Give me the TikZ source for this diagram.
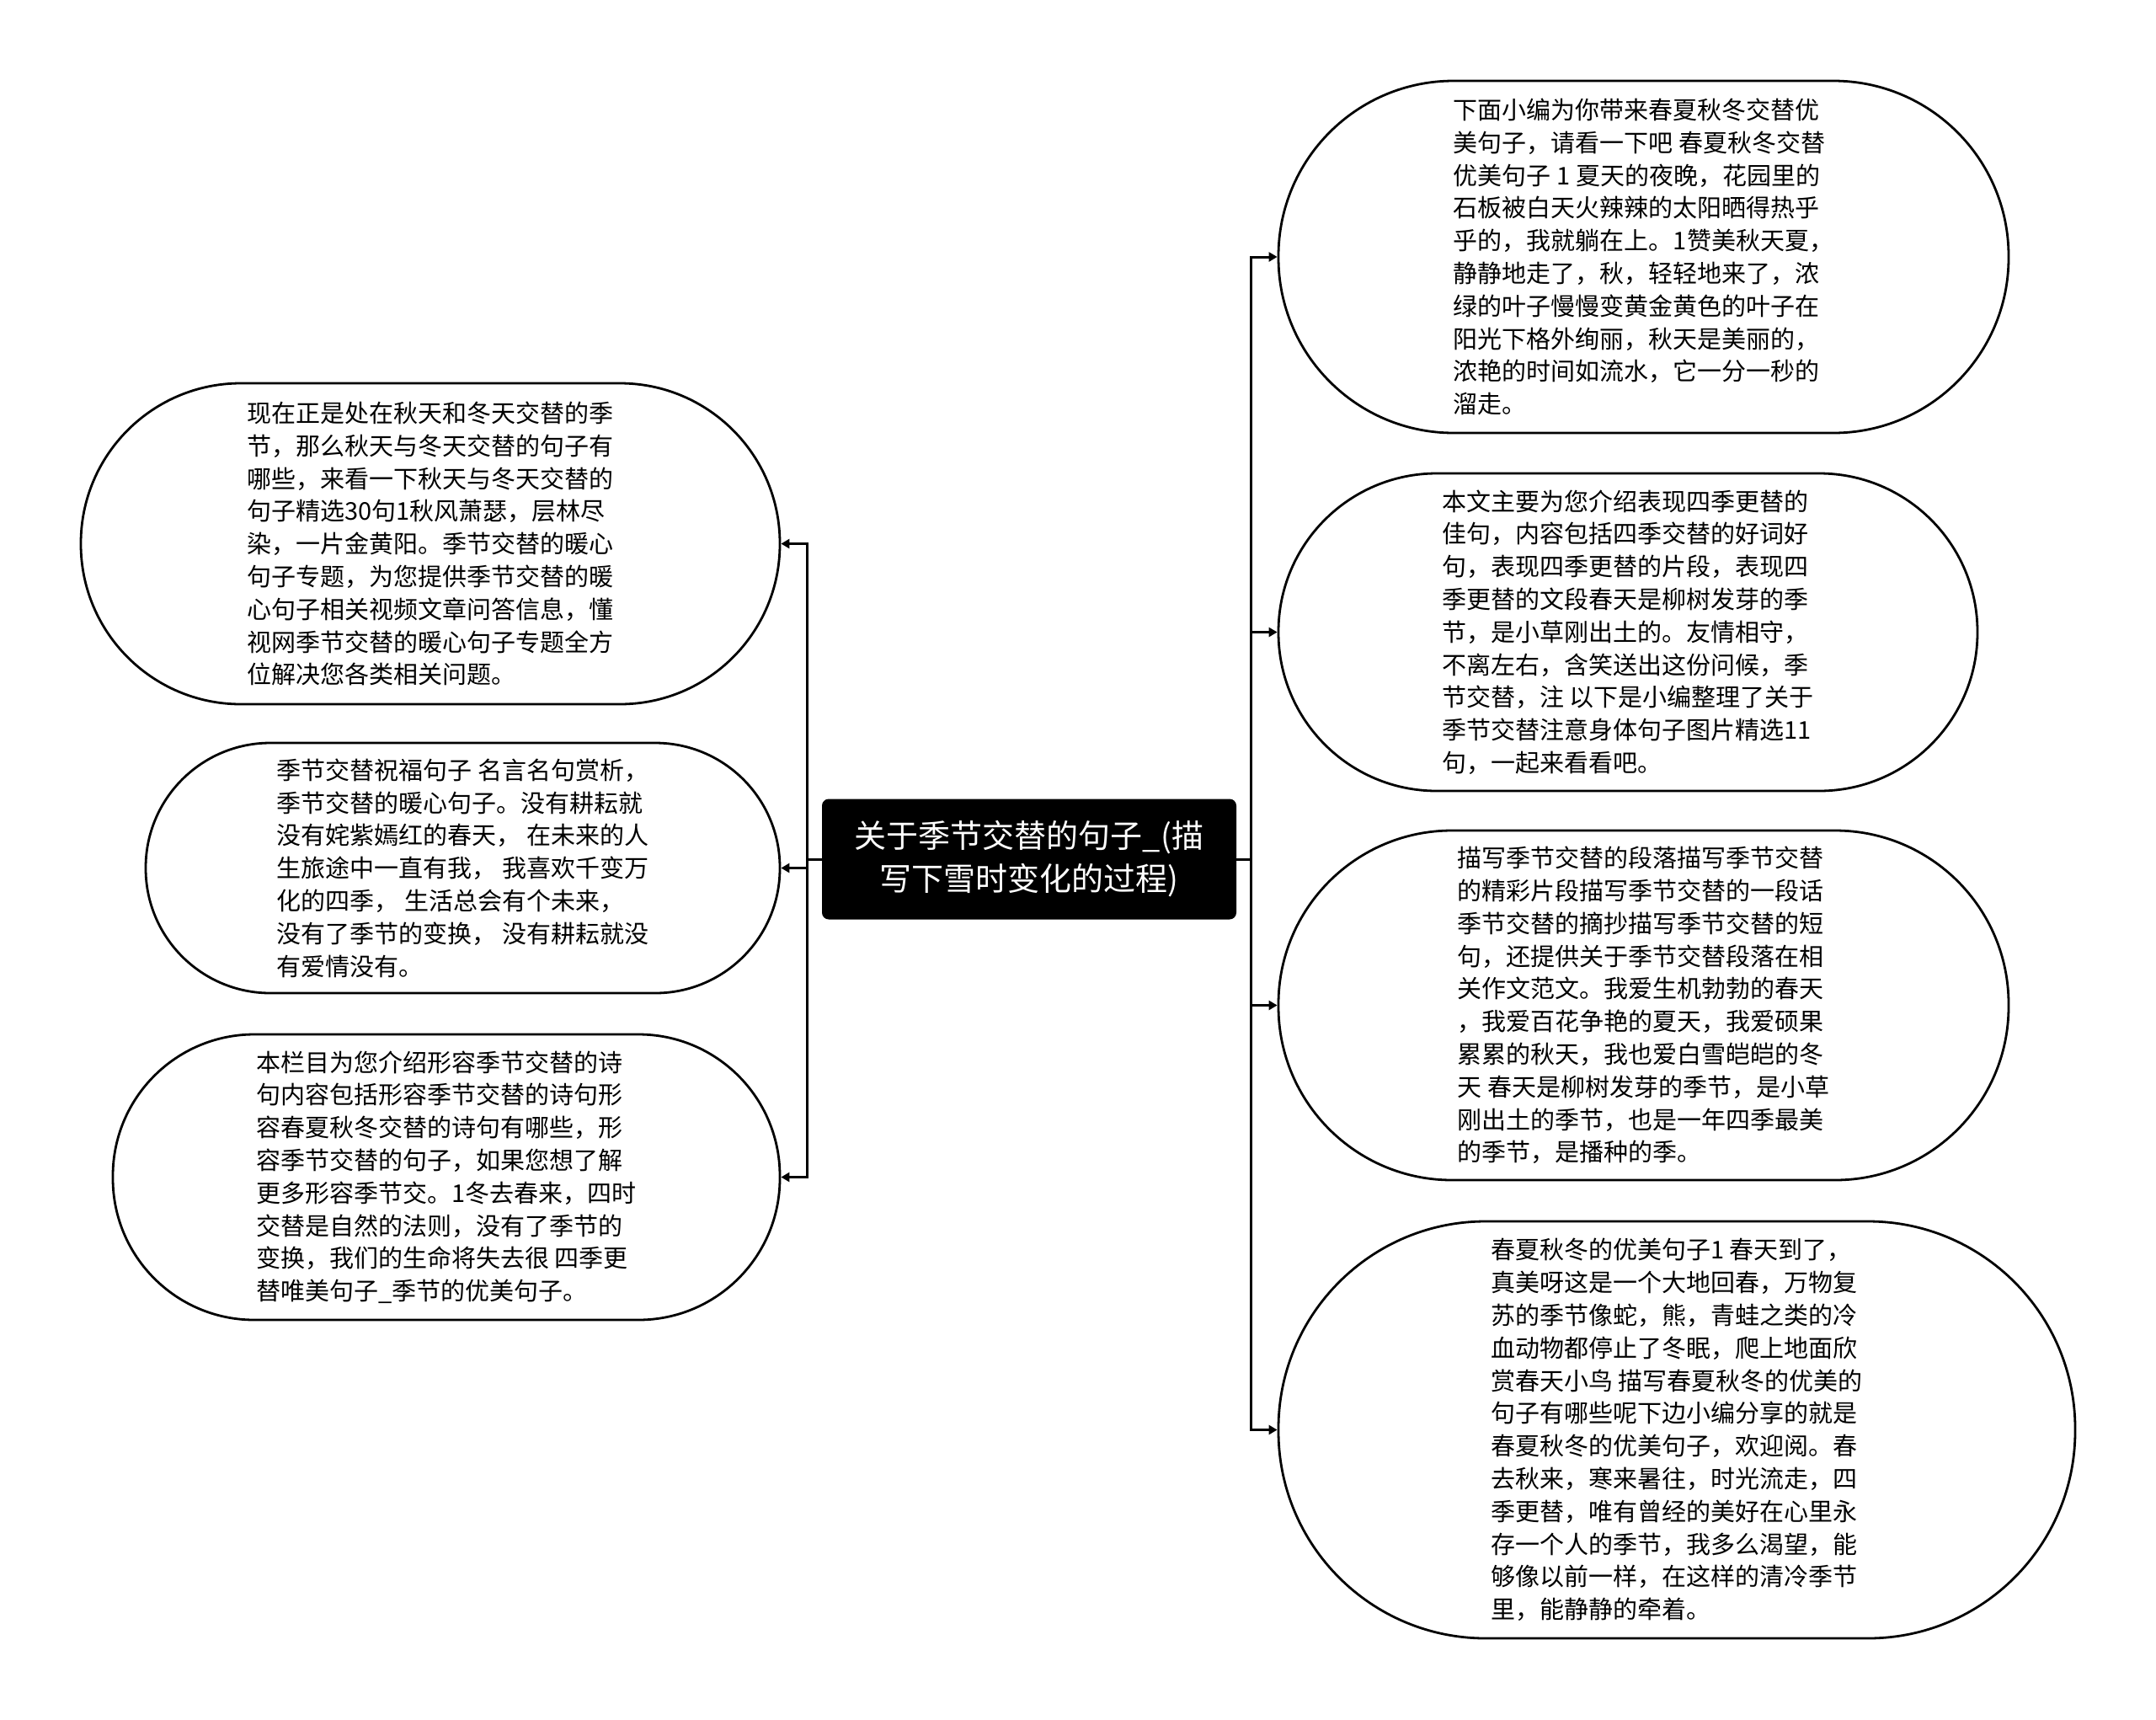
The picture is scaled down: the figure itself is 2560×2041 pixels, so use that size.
\documentclass[tikz,border=0pt]{standalone}
\usepackage{fontspec}
\newfontfamily\cjk{Noto Sans CJK SC}
\usepackage{tikz}
\usetikzlibrary{arrows.meta}
\newcommand\leaffont{\cjk\fontsize{14.5pt}{19.4pt}\selectfont}
\newcommand\topicfont{\cjk\fontsize{19pt}{25.5pt}\selectfont}

\begin{document}
\begin{tikzpicture}[x=.5pt,y=-.5pt,>={Triangle[length=5pt,width=5.5pt]},
  leaf/.style={draw,line width=1.4pt,fill=white,align=left,font=\leaffont,inner sep=0pt},
  topic/.style={fill=black,text=white,rounded corners=4pt,align=center,font=\topicfont,
    minimum width=246pt,minimum height=71.5pt,inner sep=0pt},
  link/.style={line width=1.5pt,->}]
  \useasboundingbox (0,0) rectangle (2560,2041);

  \node[topic] (root) at (1222,1020) {关于季节交替的句子\_(描\\写下雪时变化的过程)};

  % right side
  \node[leaf,minimum width=433.5pt,minimum height=209pt,rounded corners=104pt] (r1) at (1951.5,305)
    {下面小编为你带来春夏秋冬交替优\\美句子，请看一下吧 春夏秋冬交替\\优美句子 1 夏天的夜晚，花园里的\\石板被白天火辣辣的太阳晒得热乎\\乎的，我就躺在上。1赞美秋天夏，\\静静地走了，秋，轻轻地来了，浓\\绿的叶子慢慢变黄金黄色的叶子在\\阳光下格外绚丽，秋天是美丽的，\\浓艳的时间如流水，它一分一秒的\\溜走。};
  \node[leaf,minimum width=415pt,minimum height=188.5pt,rounded corners=94pt] (r2) at (1933,750.5)
    {本文主要为您介绍表现四季更替的\\佳句，内容包括四季交替的好词好\\句，表现四季更替的片段，表现四\\季更替的文段春天是柳树发芽的季\\节，是小草刚出土的。友情相守，\\不离左右，含笑送出这份问候，季\\节交替，注 以下是小编整理了关于\\季节交替注意身体句子图片精选11\\句，一起来看看吧。};
  \node[leaf,minimum width=433.5pt,minimum height=207.5pt,rounded corners=103pt] (r3) at (1951.5,1193.5)
    {描写季节交替的段落描写季节交替\\的精彩片段描写季节交替的一段话\\季节交替的摘抄描写季节交替的短\\句，还提供关于季节交替段落在相\\关作文范文。我爱生机勃勃的春天\\，我爱百花争艳的夏天，我爱硕果\\累累的秋天，我也爱白雪皑皑的冬\\天 春天是柳树发芽的季节，是小草\\刚出土的季节，也是一年四季最美\\的季节，是播种的季。};
  \node[leaf,minimum width=473pt,minimum height=247.5pt,rounded corners=123pt] (r4) at (1991,1697.5)
    {春夏秋冬的优美句子1 春天到了，\\真美呀这是一个大地回春，万物复\\苏的季节像蛇，熊，青蛙之类的冷\\血动物都停止了冬眠，爬上地面欣\\赏春天小鸟 描写春夏秋冬的优美的\\句子有哪些呢下边小编分享的就是\\春夏秋冬的优美句子，欢迎阅。春\\去秋来，寒来暑往，时光流走，四\\季更替，唯有曾经的美好在心里永\\存一个人的季节，我多么渴望，能\\够像以前一样，在这样的清冷季节\\里，能静静的牵着。};

  % left side
  \node[leaf,minimum width=415pt,minimum height=190.5pt,rounded corners=95pt] (l1) at (511,645.5)
    {现在正是处在秋天和冬天交替的季\\节，那么秋天与冬天交替的句子有\\哪些，来看一下秋天与冬天交替的\\句子精选30句1秋风萧瑟，层林尽\\染，一片金黄阳。季节交替的暖心\\句子专题，为您提供季节交替的暖\\心句子相关视频文章问答信息，懂\\视网季节交替的暖心句子专题全方\\位解决您各类相关问题。};
  \node[leaf,minimum width=376.5pt,minimum height=148.5pt,rounded corners=74pt] (l2) at (549.5,1030.5)
    {季节交替祝福句子 名言名句赏析，\\季节交替的暖心句子。没有耕耘就\\没有姹紫嫣红的春天， 在未来的人\\生旅途中一直有我， 我喜欢千变万\\化的四季， 生活总会有个未来，\\没有了季节的变换， 没有耕耘就没\\有爱情没有。};
  \node[leaf,minimum width=396pt,minimum height=169.5pt,rounded corners=84pt] (l3) at (530,1397.5)
    {本栏目为您介绍形容季节交替的诗\\句内容包括形容季节交替的诗句形\\容春夏秋冬交替的诗句有哪些，形\\容季节交替的句子，如果您想了解\\更多形容季节交。1冬去春来，四时\\交替是自然的法则，没有了季节的\\变换，我们的生命将失去很 四季更\\替唯美句子\_季节的优美句子。};

  \coordinate (rj) at ([xshift=8.5pt]root.east);
  \coordinate (lj) at ([xshift=-8.5pt]root.west);
  \foreach \n in {r1,r2,r3,r4} {\draw[link] (root.east) -- (rj) |- (\n.west);}
  \foreach \n in {l1,l2,l3} {\draw[link] (root.west) -- (lj) |- (\n.east);}
\end{tikzpicture}
\end{document}
